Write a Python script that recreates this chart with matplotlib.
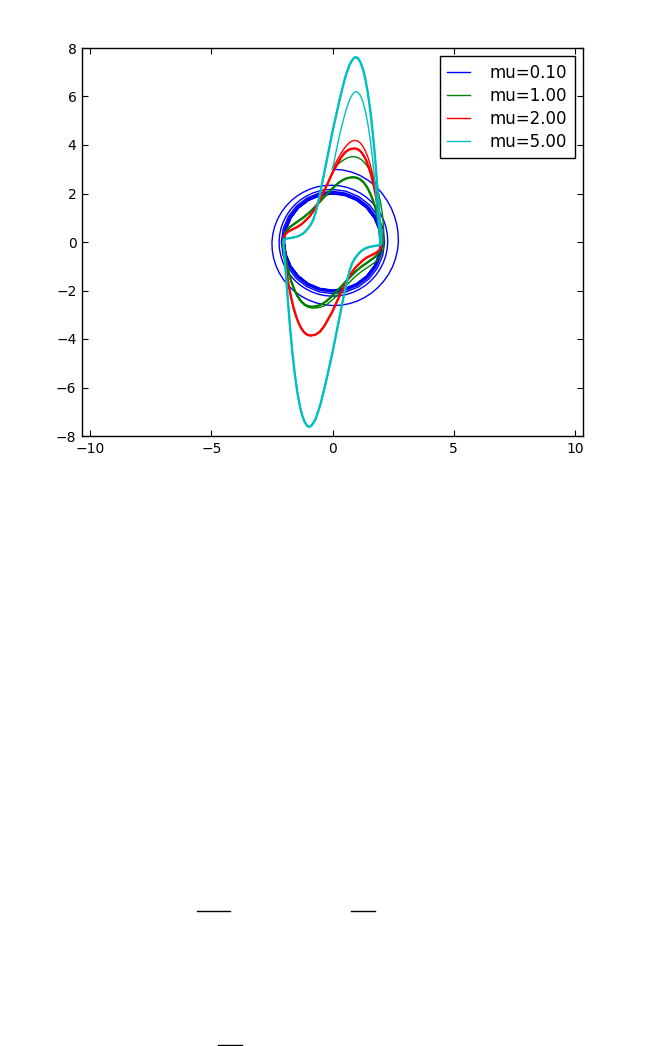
import numpy as np
import matplotlib
matplotlib.use("Agg")
import matplotlib.pyplot as plt
from matplotlib.lines import Line2D

# === Van der Pol phase portraits ===
labels = ["mu=0.10", "mu=1.00", "mu=2.00", "mu=5.00"]
colors = ["b", "g", "r", "c"]

# mu=0.10: slow spiral from (0, 3) in towards radius ~2
blue_loop1 = [(0.0, 3.0), (0.392, 2.974), (0.774, 2.888), (1.137, 2.744), (1.47, 2.546), (1.772, 2.309),
              (2.029, 2.029), (2.245, 1.723), (2.425, 1.4), (2.559, 1.06), (2.656, 0.712), (2.707, 0.356),
              (2.72, 0.0), (2.682, -0.353), (2.598, -0.696), (2.476, -1.026), (2.312, -1.335), (2.11, -1.619),
              (1.877, -1.877), (1.613, -2.103), (1.323, -2.291), (1.01, -2.439), (0.682, -2.545), (0.343, -2.607),
              (0.0, -2.62), (-0.341, -2.588), (-0.673, -2.511), (-0.991, -2.393), (-1.29, -2.234), (-1.565, -2.039),
              (-1.81, -1.81), (-2.023, -1.552), (-2.2, -1.27), (-2.337, -0.968), (-2.434, -0.652), (-2.488, -0.328),
              (-2.5, 0.0), (-2.464, 0.324), (-2.386, 0.639), (-2.268, 0.94), (-2.113, 1.22), (-1.924, 1.476),
              (-1.704, 1.704), (-1.458, 1.9), (-1.19, 2.061), (-0.907, 2.19), (-0.611, 2.28), (-0.307, 2.33),
              (0.0, 2.34)]
blue_loop2 = [(0.305, 2.315), (0.603, 2.251), (0.89, 2.148), (1.16, 2.009), (1.409, 1.837), (1.633, 1.633),
              (1.829, 1.403), (1.992, 1.15), (2.12, 0.878), (2.212, 0.593), (2.265, 0.298), (2.28, 0.0),
              (2.255, -0.297), (2.193, -0.588), (2.093, -0.867), (1.957, -1.13), (1.789, -1.373), (1.591, -1.591),
              (1.368, -1.783), (1.123, -1.944), (0.858, -2.072), (0.58, -2.164), (0.292, -2.218), (0.0, -2.235),
              (-0.291, -2.213), (-0.577, -2.154), (-0.852, -2.058), (-1.113, -1.927), (-1.353, -1.763),
              (-1.57, -1.57), (-1.759, -1.35), (-1.918, -1.108), (-2.044, -0.847), (-2.135, -0.572),
              (-2.189, -0.288), (-2.205, 0.0), (-2.184, 0.287), (-2.125, 0.569), (-2.028, 0.84), (-1.897, 1.095),
              (-1.736, 1.332), (-1.545, 1.545), (-1.329, 1.732), (-1.09, 1.888), (-0.833, 2.012), (-0.563, 2.101),
              (-0.284, 2.154), (0.0, 2.17)]
blue_loop3 = [(0.561, 2.093), (1.082, 1.873), (1.527, 1.527), (1.868, 1.079), (2.08, 0.557),
              (2.15, 0.0), (2.074, -0.556), (1.856, -1.072), (1.513, -1.513), (1.069, -1.851), (0.552, -2.06),
              (0.0, -2.13), (-0.55, -2.055), (-1.062, -1.839), (-1.499, -1.499), (-1.833, -1.059), (-2.041, -0.547),
              (-2.11, 0.0), (-2.035, 0.545), (-1.821, 1.052), (-1.485, 1.485), (-1.049, 1.816), (-0.542, 2.022),
              (0.0, 2.09)]
blue_loop4 = [(0.54, 2.016), (1.043, 1.806), (1.473, 1.473), (1.801, 1.04), (2.007, 0.538),
              (2.075, 0.0), (2.002, -0.536), (1.793, -1.035), (1.462, -1.462), (1.033, -1.788), (0.534, -1.992),
              (0.0, -2.06), (-0.532, -1.987), (-1.028, -1.78), (-1.451, -1.451), (-1.775, -1.025), (-1.978, -0.53),
              (-2.045, 0.0), (-1.973, 0.529), (-1.767, 1.02), (-1.441, 1.441), (-1.018, 1.762), (-0.526, 1.963),
              (0.0, 2.03)]
blue_loop5 = [(0.525, 1.96), (1.014, 1.756), (1.433, 1.433), (1.754, 1.013), (1.956, 0.524),
              (2.024, 0.0), (1.954, -0.524), (1.751, -1.011), (1.429, -1.429), (1.01, -1.749), (0.523, -1.95),
              (0.0, -2.018), (-0.522, -1.948), (-1.008, -1.746), (-1.425, -1.425), (-1.744, -1.007), (-1.944, -0.521),
              (-2.012, 0.0), (-1.942, 0.52), (-1.741, 1.005), (-1.421, 1.421), (-1.004, 1.739), (-0.519, 1.939),
              (0.0, 2.006)]
blue_loop6 = [(0.518, 1.932), (1.0, 1.732), (1.414, 1.414), (1.732, 1.0), (1.932, 0.518),
              (2.0, 0.0), (1.932, -0.518), (1.732, -1.0), (1.414, -1.414), (1.0, -1.732), (0.518, -1.932),
              (0.0, -2.0), (-0.518, -1.932), (-1.0, -1.732), (-1.414, -1.414), (-1.732, -1.0), (-1.932, -0.518),
              (-2.0, 0.0), (-1.932, 0.518), (-1.732, 1.0), (-1.414, 1.414), (-1.0, 1.732), (-0.518, 1.932),
              (0.0, 2.0)]

# mu=1.00
green_start = [(0.0, 3.0), (0.15, 3.14), (0.3, 3.27), (0.45, 3.38), (0.6, 3.46), (0.75, 3.51), (0.9, 3.52),
               (1.05, 3.48), (1.2, 3.39), (1.35, 3.24), (1.5, 3.03), (1.65, 2.75), (1.78, 2.42), (1.9, 2.02),
               (2.0, 1.55), (2.07, 1.05), (2.11, 0.55), (2.12, 0.2), (2.12, 0.0),
               (2.11, -0.2), (2.06, -0.42), (1.96, -0.62), (1.8, -0.8), (1.52, -1.0), (1.22, -1.2), (0.97, -1.4),
               (0.76, -1.6), (0.55, -1.81), (0.36, -2.02), (0.17, -2.22), (-0.03, -2.41), (-0.24, -2.58),
               (-0.38, -2.65), (-0.54, -2.7), (-0.7, -2.72), (-0.85, -2.72), (-1.0, -2.69), (-1.15, -2.6),
               (-1.3, -2.46), (-1.45, -2.24), (-1.58, -1.97), (-1.7, -1.65), (-1.8, -1.31), (-1.88, -0.96),
               (-1.94, -0.63), (-1.98, -0.35), (-2.0, -0.15), (-2.01, 0.0)]
green_up = [(-2.01, 0.0), (-1.995, 0.2), (-1.94, 0.4), (-1.78, 0.6), (-1.49, 0.81), (-1.2, 1.01), (-0.96, 1.21),
            (-0.75, 1.42), (-0.55, 1.63), (-0.36, 1.84), (-0.17, 2.04), (0.03, 2.24), (0.24, 2.43), (0.38, 2.53),
            (0.54, 2.61), (0.7, 2.655), (0.85, 2.67), (1.0, 2.65), (1.15, 2.58), (1.3, 2.44), (1.45, 2.22),
            (1.58, 1.95), (1.7, 1.63), (1.8, 1.3), (1.88, 0.95), (1.94, 0.62), (1.98, 0.35), (2.0, 0.15), (2.01, 0.0)]
green_low = [(1.995, -0.2), (1.94, -0.4), (1.78, -0.6), (1.49, -0.81), (1.2, -1.01), (0.96, -1.21),
             (0.75, -1.42), (0.55, -1.63), (0.36, -1.84), (0.17, -2.04), (-0.03, -2.24), (-0.24, -2.43),
             (-0.38, -2.53), (-0.54, -2.61), (-0.7, -2.655), (-0.85, -2.67), (-1.0, -2.65), (-1.15, -2.58),
             (-1.3, -2.44), (-1.45, -2.22), (-1.58, -1.95), (-1.7, -1.63), (-1.8, -1.3), (-1.88, -0.95),
             (-1.94, -0.62), (-1.98, -0.35), (-2.0, -0.15), (-2.01, 0.0)]

# mu=2.00
red_start = [(0.0, 3.0), (0.1, 3.2), (0.2, 3.39), (0.3, 3.57), (0.4, 3.73), (0.5, 3.88), (0.6, 4.0), (0.7, 4.1),
             (0.8, 4.16), (0.93, 4.19), (1.05, 4.16), (1.15, 4.08), (1.25, 3.95), (1.35, 3.77), (1.45, 3.53),
             (1.55, 3.22), (1.65, 2.83), (1.75, 2.35), (1.85, 1.78), (1.93, 1.2), (1.99, 0.7), (2.03, 0.3),
             (2.04, 0.0)]
red_up = [(-2.02, 0.0), (-2.0, 0.2), (-1.94, 0.33), (-1.84, 0.42), (-1.7, 0.5), (-1.55, 0.57), (-1.4, 0.65),
          (-1.25, 0.76), (-1.1, 0.9), (-0.93, 1.07), (-0.75, 1.33), (-0.55, 1.69), (-0.35, 2.1), (-0.17, 2.48),
          (0.0, 2.86), (0.2, 3.22), (0.35, 3.48), (0.52, 3.7), (0.7, 3.82), (0.9, 3.86), (1.0, 3.84), (1.1, 3.79),
          (1.2, 3.69), (1.3, 3.54), (1.4, 3.34), (1.5, 3.07), (1.6, 2.74), (1.7, 2.33), (1.8, 1.84), (1.9, 1.24),
          (1.95, 0.87), (1.99, 0.45), (2.01, 0.2), (2.02, 0.0)]
red_low = [(2.0, -0.2), (1.94, -0.33), (1.84, -0.42), (1.7, -0.5), (1.55, -0.57), (1.4, -0.65), (1.25, -0.76),
           (1.1, -0.9), (0.93, -1.07), (0.75, -1.33), (0.55, -1.69), (0.35, -2.1), (0.17, -2.48), (0.0, -2.86),
           (-0.2, -3.22), (-0.35, -3.48), (-0.52, -3.7), (-0.7, -3.82), (-0.9, -3.86), (-1.0, -3.84),
           (-1.1, -3.79), (-1.2, -3.69), (-1.3, -3.54), (-1.4, -3.34), (-1.5, -3.07), (-1.6, -2.74),
           (-1.7, -2.33), (-1.8, -1.84), (-1.9, -1.24), (-1.95, -0.87), (-1.99, -0.45), (-2.01, -0.2), (-2.02, 0.0)]

# mu=5.00
cyan_start = [(0.0, 3.0), (0.1, 3.5), (0.2, 3.98), (0.3, 4.44), (0.4, 4.85), (0.5, 5.23), (0.6, 5.57),
              (0.7, 5.85), (0.8, 6.05), (0.9, 6.17), (0.97, 6.2), (1.05, 6.17), (1.15, 6.05), (1.25, 5.8),
              (1.35, 5.43), (1.45, 4.93), (1.55, 4.28), (1.65, 3.45), (1.75, 2.45), (1.82, 1.6), (1.88, 0.85),
              (1.92, 0.35), (1.94, 0.1), (1.94, 0.0)]
cyan_up = [(-2.02, 0.0), (-2.01, 0.1), (-1.95, 0.13), (-1.8, 0.155), (-1.65, 0.18), (-1.5, 0.21), (-1.35, 0.27),
           (-1.2, 0.36), (-1.06, 0.5), (-0.92, 0.68), (-0.8, 0.9), (-0.7, 1.2), (-0.6, 1.6), (-0.5, 2.05),
           (-0.4, 2.55), (-0.3, 3.05), (-0.2, 3.55), (-0.1, 4.05), (0.0, 4.55), (0.1, 5.0), (0.2, 5.45),
           (0.3, 5.9), (0.4, 6.3), (0.5, 6.7), (0.6, 7.02), (0.7, 7.3), (0.8, 7.48), (0.9, 7.6), (0.97, 7.62),
           (1.05, 7.58), (1.15, 7.42), (1.25, 7.15), (1.35, 6.75), (1.45, 6.2), (1.55, 5.5), (1.65, 4.62),
           (1.75, 3.55), (1.85, 2.3), (1.92, 1.4), (1.97, 0.7), (2.0, 0.35), (2.02, 0.12), (2.02, 0.0)]
cyan_low = [(2.01, -0.1), (1.95, -0.13), (1.8, -0.155), (1.65, -0.18), (1.5, -0.21), (1.35, -0.27),
            (1.2, -0.36), (1.06, -0.5), (0.92, -0.68), (0.8, -0.9), (0.7, -1.2), (0.6, -1.6), (0.5, -2.05),
            (0.4, -2.55), (0.3, -3.05), (0.2, -3.55), (0.1, -4.05), (0.0, -4.55), (-0.1, -5.0), (-0.2, -5.45),
            (-0.3, -5.9), (-0.4, -6.3), (-0.5, -6.7), (-0.6, -7.02), (-0.7, -7.3), (-0.8, -7.48), (-0.9, -7.6),
            (-0.97, -7.62), (-1.05, -7.58), (-1.15, -7.42), (-1.25, -7.15), (-1.35, -6.75), (-1.45, -6.2),
            (-1.55, -5.5), (-1.65, -4.62), (-1.75, -3.55), (-1.85, -2.3), (-1.92, -1.4), (-1.97, -0.7),
            (-2.0, -0.35), (-2.02, -0.12), (-2.02, 0.0)]

xticks = [-10, -5, 0, 5, 10]
yticks = [-8, -6, -4, -2, 0, 2, 4, 6, 8]

# whole trajectories and their settled cycles
paths = [
    np.array(blue_loop1 + blue_loop2 + blue_loop3 + blue_loop4 + blue_loop5 + blue_loop6),
    np.array(green_start + green_up + green_low),
    np.array(red_start + red_low + red_up),
    np.array(cyan_start + cyan_low[1:] + cyan_up),
]
cycles = [
    np.array(blue_loop5 + blue_loop6),
    np.array(green_up + green_low),
    np.array(red_up + red_low),
    np.array(cyan_up + cyan_low),
]

W, H = 647, 1046
fig = plt.figure(figsize=(W / 100, H / 100), dpi=100)
fig.patch.set_facecolor("white")
ax = fig.add_axes([82 / W, 1 - 436 / H, 501 / W, 388 / H])

for p, cyc, c, lab in zip(paths, cycles, colors, labels):
    ax.plot(p[:, 0], p[:, 1], color=c, lw=1.0, label=lab)
    ax.plot(cyc[:, 0], cyc[:, 1], color=c, lw=1.7)

ax.set_xlim(-10.34, 10.34)
ax.set_ylim(-8, 8)
ax.set_xticks(xticks)
ax.set_yticks(yticks)
ax.tick_params(direction="in", top=True, right=True, length=4, width=0.8, labelsize=10, pad=4)
for s in ax.spines.values():
    s.set_linewidth(1.0)
    s.set_color("black")

leg = ax.legend(loc="upper right", fontsize=12, handlelength=1.4, handletextpad=1.15,
                labelspacing=0.3, borderpad=0.45, borderaxespad=0.5, fancybox=False,
                framealpha=1, edgecolor="black")
leg.get_frame().set_linewidth(1.0)

# stray rules further down the page
for x0, x1, yp in [(197, 230, 911), (351, 375, 911), (218, 242, 1045)]:
    fig.add_artist(Line2D([x0 / W, x1 / W], [1 - yp / H, 1 - yp / H], color="black", lw=1.0,
                          transform=fig.transFigure))

fig.savefig("out.png", dpi=100, facecolor="white")
